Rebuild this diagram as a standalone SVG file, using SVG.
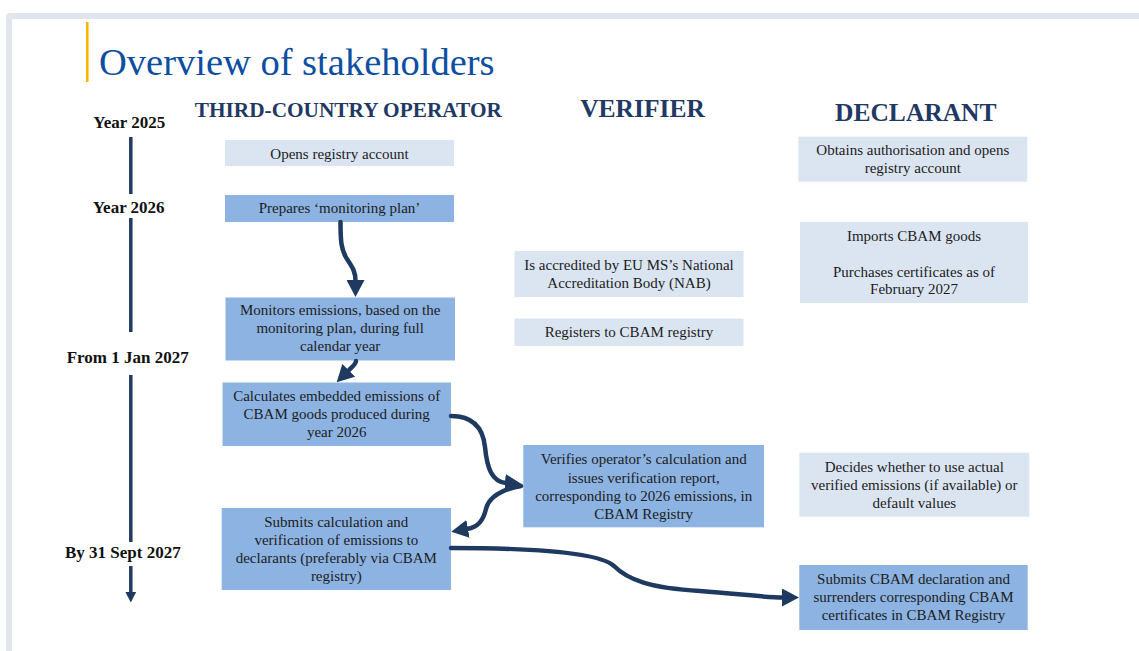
<svg xmlns="http://www.w3.org/2000/svg" width="1139" height="651" viewBox="0 0 1139 651">
  <style>
    .box-light { fill: #dbe5f1; }
    .box-mid { fill: #8db3e2; }
    .body { font-family: "Liberation Serif", "Times New Roman", serif; font-size: 15px; fill: #1c1c1c; text-anchor: middle; }
    .year { font-family: "Liberation Serif", "Times New Roman", serif; font-size: 17px; font-weight: bold; fill: #111111; }
    .head { font-family: "Liberation Serif", "Times New Roman", serif; font-weight: bold; fill: #1f3864; text-anchor: middle; }
    .flow { fill: none; stroke: #1f3a60; stroke-width: 4.5; stroke-linecap: round; }
    .axis { fill: none; stroke: #1f3a60; stroke-width: 3.5; }
  </style>
  <defs>
    <marker id="head" viewBox="0 0 17 18" refX="1" refY="9" markerWidth="17" markerHeight="18" markerUnits="userSpaceOnUse" orient="auto">
      <path d="M0,0 L17,9 L0,18 Z" fill="#1f3a60"/>
    </marker>
  </defs>

  <!-- page frame -->
  <rect x="0" y="0" width="1139" height="651" fill="#ffffff"/>
  <rect x="6" y="13" width="1150" height="660" rx="4" fill="#e1e5ec"/>
  <rect x="12" y="19" width="1140" height="650" fill="#ffffff"/>

  <!-- title -->
  <g id="title">
    <rect x="86" y="22" width="2.6" height="60" fill="#f5b700"/>
    <text x="99" y="75" font-family="'Liberation Serif', 'Times New Roman', serif" font-size="38.5" fill="#0c4ea2">Overview of stakeholders</text>
  </g>

  <!-- column headers -->
  <g id="headers">
    <text class="head" x="348.3" y="117.3" font-size="21.3">THIRD-COUNTRY OPERATOR</text>
    <text class="head" x="642.5" y="116.7" font-size="25.5">VERIFIER</text>
    <text class="head" x="915.8" y="120.7" font-size="25.5">DECLARANT</text>
  </g>

  <!-- timeline -->
  <g id="timeline">
    <text class="year" x="93.3" y="128.3">Year 2025</text>
    <text class="year" x="92.7" y="213.3">Year 2026</text>
    <text class="year" x="66.7" y="362.5">From 1 Jan 2027</text>
    <text class="year" x="65" y="558">By 31 Sept 2027</text>
    <line class="axis" x1="130.8" y1="137" x2="130.8" y2="194"/>
    <line class="axis" x1="130.8" y1="218" x2="130.8" y2="332"/>
    <line class="axis" x1="130.8" y1="375" x2="130.8" y2="542"/>
    <line class="axis" x1="130.8" y1="566" x2="130.8" y2="593"/>
    <path d="M125.4,592 L136.2,592 L130.8,602.5 Z" fill="#1f3a60"/>
  </g>

  <!-- third-country operator -->
  <g id="op-open">
    <rect class="box-light" x="225" y="140" width="229" height="26"/>
    <text class="body" x="339.5" y="158.5">Opens registry account</text>
  </g>
  <g id="op-plan">
    <rect class="box-mid" x="225" y="195" width="229" height="27"/>
    <text class="body" x="339.5" y="213.3">Prepares ‘monitoring plan’</text>
  </g>
  <g id="op-monitor">
    <rect class="box-mid" x="225.5" y="297.5" width="229.5" height="63"/>
    <text class="body" x="340.2" y="315">Monitors emissions, based on the</text>
    <text class="body" x="340.2" y="333">monitoring plan, during full</text>
    <text class="body" x="340.2" y="351">calendar year</text>
  </g>
  <g id="op-calc">
    <rect class="box-mid" x="222.5" y="382.5" width="228.5" height="63.5"/>
    <text class="body" x="336.7" y="401">Calculates embedded emissions of</text>
    <text class="body" x="336.7" y="419">CBAM goods produced during</text>
    <text class="body" x="336.7" y="436.5">year 2026</text>
  </g>
  <g id="op-submit">
    <rect class="box-mid" x="221.7" y="508" width="229.3" height="82"/>
    <text class="body" x="336.3" y="527">Submits calculation and</text>
    <text class="body" x="336.3" y="545">verification of emissions to</text>
    <text class="body" x="336.3" y="563">declarants (preferably via CBAM</text>
    <text class="body" x="336.3" y="581">registry)</text>
  </g>

  <!-- verifier -->
  <g id="ver-accredit">
    <rect class="box-light" x="514.5" y="251" width="229" height="46"/>
    <text class="body" x="629" y="270">Is accredited by EU MS’s National</text>
    <text class="body" x="629" y="287.5">Accreditation Body (NAB)</text>
  </g>
  <g id="ver-register">
    <rect class="box-light" x="514.5" y="318.5" width="229" height="27.5"/>
    <text class="body" x="629" y="337">Registers to CBAM registry</text>
  </g>
  <g id="ver-verify">
    <rect class="box-mid" x="523.3" y="445" width="240.7" height="82.3"/>
    <text class="body" x="643.7" y="464">Verifies operator’s calculation and</text>
    <text class="body" x="643.7" y="482.5">issues verification report,</text>
    <text class="body" x="643.7" y="500.7">corresponding to 2026 emissions, in</text>
    <text class="body" x="643.7" y="519">CBAM Registry</text>
  </g>

  <!-- declarant -->
  <g id="dec-authorise">
    <rect class="box-light" x="798.3" y="136.7" width="229" height="45"/>
    <text class="body" x="912.8" y="155">Obtains authorisation and opens</text>
    <text class="body" x="912.8" y="172.5">registry account</text>
  </g>
  <g id="dec-import">
    <rect class="box-light" x="800" y="222" width="228" height="81"/>
    <text class="body" x="914" y="240.5">Imports CBAM goods</text>
    <text class="body" x="914" y="276.5">Purchases certificates as of</text>
    <text class="body" x="914" y="294">February 2027</text>
  </g>
  <g id="dec-decide">
    <rect class="box-light" x="799.3" y="452.7" width="230" height="64"/>
    <text class="body" x="914.3" y="472">Decides whether to use actual</text>
    <text class="body" x="914.3" y="490">verified emissions (if available) or</text>
    <text class="body" x="914.3" y="507.5">default values</text>
  </g>
  <g id="dec-submit">
    <rect class="box-mid" x="799.3" y="565" width="228.4" height="65"/>
    <text class="body" x="913.5" y="583.5">Submits CBAM declaration and</text>
    <text class="body" x="913.5" y="601.5">surrenders corresponding CBAM</text>
    <text class="body" x="913.5" y="619.5">certificates in CBAM Registry</text>
  </g>

  <!-- connectors -->
  <g id="connectors">
    <path class="flow" d="M340.5,222 C340.5,240 341,250 347,259 C353,268 355.5,272 355.5,281" marker-end="url(#head)"/>
    <path class="flow" d="M356,361 C356,364 352,367 348,371" marker-end="url(#head)"/>
    <path class="flow" d="M451,416 C473,416 483,428 485,447 C487,468 492,482 506,483" marker-end="url(#head)"/>
    <path class="flow" d="M521,486 C500,490 489,497 486,509 C483,521 478,527 467,529" marker-end="url(#head)"/>
    <path class="flow" d="M451,548 C540,548 600,553 614,566 C628,580 650,588 700,591 C740,594 765,597.5 783,597.5" marker-end="url(#head)"/>
  </g>
</svg>
